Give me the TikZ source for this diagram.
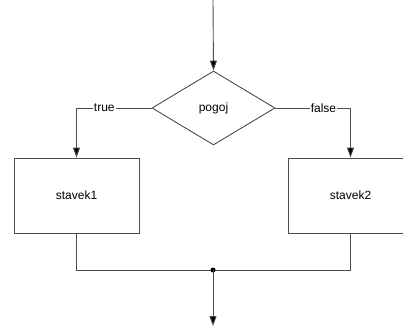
\documentclass[tikz,border=0pt]{standalone}
\usepackage{fontspec}
\setmainfont{Liberation Sans}
\usetikzlibrary{shapes.geometric,arrows.meta}
\begin{document}
\begin{tikzpicture}[x=1pt,y=-1pt,
  line/.style={draw=black!70,line width=0.9pt},
  arr/.style={line,-{Triangle[length=10pt,width=7pt,fill=black]}},
  box/.style={draw=black!70,line width=0.9pt,minimum width=125pt,minimum height=75pt,font=\fontsize{12}{14}\selectfont,inner sep=0pt},
  cond/.style={draw=black!70,line width=0.9pt,diamond,minimum width=123pt,minimum height=74pt,inner sep=0pt,font=\fontsize{12}{14}\selectfont},
  lbl/.style={fill=white,inner sep=1pt,font=\fontsize{12}{14}\selectfont}]
\useasboundingbox (0,0) rectangle (403,332);
\coordinate (start) at (213,0);
\node[cond] (d) at (213.5,108) {pogoj};
\node[box] (s1) at (76.5,195.5) {stavek1};
\node[box] (s2) at (350.5,195.5) {stavek2};
\coordinate (j) at (213,270);
\coordinate (end) at (213,326);
\draw[arr] (start) -- (d.north);
\draw[arr] (d.west) -- node[lbl,pos=0.63]{true} (s1.north |- d.west) -- (s1.north);
\draw[arr] (d.east) -- node[lbl,pos=0.64]{false} (s2.north |- d.east) -- (s2.north);
\draw[line] (s1.south) -- (s1.south |- j) -- (s2.south |- j) -- (s2.south);
\fill[black] (j) circle (2.5pt);
\draw[arr] (j) -- (end);
\end{tikzpicture}
\end{document}
